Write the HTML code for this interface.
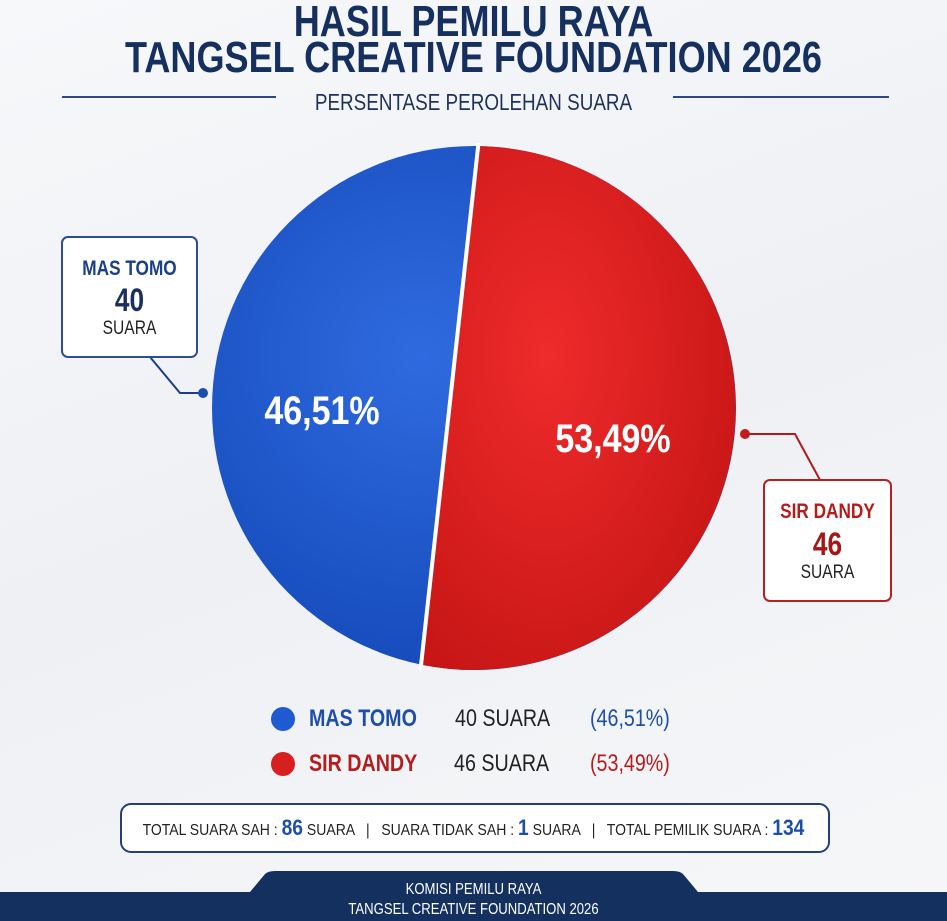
<!DOCTYPE html>
<html><head><meta charset="utf-8"><style>
body{margin:0;width:947px;height:921px;overflow:hidden;background:linear-gradient(160deg,#f7f8fa 0%,#eef0f4 50%,#f6f7f9 100%);font-family:"Liberation Sans",sans-serif;position:relative}
.a{position:absolute;white-space:nowrap}
.c{transform:scaleX(0.82);transform-origin:50% 50%}
.l{transform:scaleX(0.82);transform-origin:0 50%}
</style></head><body>
<div class="a c" style="left:0;width:947px;top:0px;text-align:center;font-weight:bold;font-size:44px;color:#15305f;line-height:44px">HASIL PEMILU RAYA</div>
<div class="a c" style="left:0;width:947px;top:36px;text-align:center;font-weight:bold;font-size:44px;color:#15305f;line-height:44px">TANGSEL CREATIVE FOUNDATION 2026</div>
<div class="a" style="left:62px;top:96px;width:214px;height:2px;background:#2a4a85"></div>
<div class="a" style="left:673px;top:96px;width:216px;height:2px;background:#2a4a85"></div>
<div class="a c" style="left:0;width:947px;top:89px;text-align:center;font-size:23px;color:#1e3258">PERSENTASE PEROLEHAN SUARA</div>
<svg class="a" style="left:0;top:0" width="947" height="921">
<defs>
<radialGradient id="b" cx="0.4" cy="0.4" r="0.7"><stop offset="0" stop-color="#2f6be0"/><stop offset="1" stop-color="#1246b5"/></radialGradient>
<radialGradient id="r" cx="0.4" cy="0.4" r="0.7"><stop offset="0" stop-color="#ef2b2b"/><stop offset="1" stop-color="#c61515"/></radialGradient>
</defs>
<circle cx="474" cy="408" r="262" fill="url(#b)"/>
<path d="M478,146 A262,262 0 1 1 421,664.6 Z" fill="url(#r)"/>
<line x1="478.5" y1="143" x2="420.5" y2="670" stroke="#fff" stroke-width="4"/>
<text x="322" y="424" text-anchor="middle" font-size="40" font-weight="bold" fill="#fff" transform="translate(322,0) scale(0.85,1) translate(-322,0)">46,51%</text>
<text x="613" y="452" text-anchor="middle" font-size="40" font-weight="bold" fill="#fff" transform="translate(613,0) scale(0.85,1) translate(-613,0)">53,49%</text>
<polyline points="150,357 180,393 203,393" fill="none" stroke="#1a3f8a" stroke-width="2"/>
<circle cx="203" cy="393" r="5" fill="#1a4fb0"/>
<polyline points="745,434 795,434 820,480" fill="none" stroke="#b51a1a" stroke-width="2"/>
<circle cx="745" cy="434" r="5" fill="#c41c1c"/>
<rect x="62" y="237" width="135" height="120" rx="6" fill="#fff" stroke="#2a4f95" stroke-width="2"/>
<rect x="764" y="480" width="127" height="121" rx="6" fill="#fff" stroke="#b52020" stroke-width="2"/>
<circle cx="283" cy="719" r="12" fill="#1f5ad0"/>
<circle cx="283" cy="764" r="12" fill="#d81f1f"/>
<rect x="121" y="804" width="708" height="48" rx="10" fill="#fff" stroke="#243f7a" stroke-width="2"/>
<path d="M0,892 L250,892 L265,874 Q268,871 275,871 L673,871 Q680,871 683,874 L698,892 L947,892 L947,921 L0,921 Z" fill="#14305f"/>
</svg>
<div class="a c" style="left:62px;width:135px;top:257px;text-align:center;color:#1b3f85;font-weight:bold;font-size:21px;line-height:24px">MAS TOMO</div>
<div class="a c" style="left:62px;width:135px;top:283px;text-align:center;color:#1b3060;font-weight:bold;font-size:32px;line-height:34px">40</div>
<div class="a c" style="left:62px;width:135px;top:318px;text-align:center;color:#222;font-size:19px">SUARA</div>
<div class="a c" style="left:764px;width:127px;top:500px;text-align:center;color:#b51c1c;font-weight:bold;font-size:21px;line-height:24px">SIR DANDY</div>
<div class="a c" style="left:764px;width:127px;top:527px;text-align:center;color:#a21717;font-weight:bold;font-size:32px;line-height:34px">46</div>
<div class="a c" style="left:764px;width:127px;top:562px;text-align:center;color:#222;font-size:19px">SUARA</div>
<div class="a l" style="left:309px;top:705px;font-size:24px;font-weight:bold;color:#1d4fa6">MAS TOMO</div>
<div class="a l" style="left:455px;top:705px;font-size:24px;color:#222">40 SUARA</div>
<div class="a l" style="left:590px;top:705px;font-size:24px;color:#1d4fa6">(46,51%)</div>
<div class="a l" style="left:309px;top:750px;font-size:24px;font-weight:bold;color:#b51c1c">SIR DANDY</div>
<div class="a l" style="left:454px;top:750px;font-size:24px;color:#222">46 SUARA</div>
<div class="a l" style="left:590px;top:750px;font-size:24px;color:#b51c1c">(53,49%)</div>
<div class="a" style="left:0;width:947px;top:815px;text-align:center;font-size:16px;color:#222;transform:scaleX(0.875)">TOTAL SUARA SAH : <b style="font-size:22px;color:#1d4fa6">86</b> SUARA &nbsp; | &nbsp; SUARA TIDAK SAH : <b style="font-size:22px;color:#1d4fa6">1</b> SUARA &nbsp; | &nbsp; TOTAL PEMILIK SUARA : <b style="font-size:22px;color:#1d4fa6">134</b></div>
<div class="a c" style="left:0;width:947px;top:880px;text-align:center;color:#fff;font-size:16px;line-height:20px">KOMISI PEMILU RAYA<br>TANGSEL CREATIVE FOUNDATION 2026</div>
</body></html>
